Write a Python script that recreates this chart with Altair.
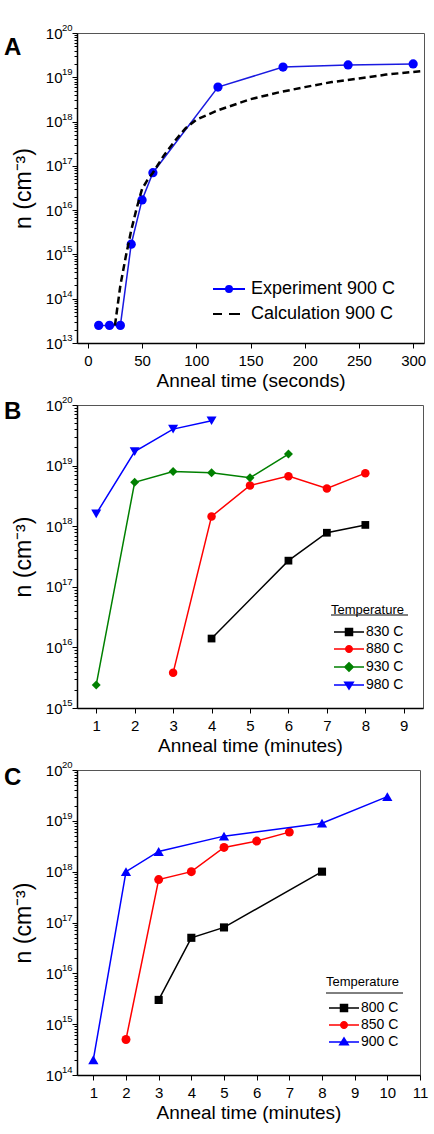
import altair as alt
import pandas as pd

FONT = "Liberation Sans"

# ---------------- Panel A data ----------------
a_exp_t = [10, 20, 30, 40, 50, 60, 120, 180, 240, 300]
a_exp_n = [2.5e13, 2.5e13, 2.5e13, 1.7e15, 1.7e16, 7e16, 6e18, 1.7e19, 1.9e19, 2e19]
a_calc_t = [25, 30, 35, 40, 45, 50, 55, 60, 70, 80, 90, 100, 120, 150, 175, 200, 225, 250, 275, 310]
a_calc_n = [2.5e13, 2e14, 9e14, 3.5e15, 1.1e16, 3e16, 4.8e16, 7e16, 1.7e17, 3.6e17, 7e17,
            1.1e18, 1.8e18, 3.2e18, 4.5e18, 6e18, 7.8e18, 9.4e18, 1.15e19, 1.4e19]
a_names = ["Experiment 900 C", "Calculation 900 C"]
a_xticks = [0, 50, 100, 150, 200, 250, 300]

# ---------------- Panel B data ----------------
b_names = ["830 C", "880 C", "930 C", "980 C"]
b_t = [[4, 6, 7, 8],
       [3, 4, 5, 6, 7, 8],
       [1, 2, 3, 4, 5, 6],
       [1, 2, 3, 4]]
b_n = [[1.4e16, 2.7e17, 7.8e17, 1.05e18],
       [3.8e15, 1.45e18, 4.7e18, 6.7e18, 4.2e18, 7.5e18],
       [2.4e15, 5.3e18, 8e18, 7.6e18, 6.3e18, 1.55e19],
       [1.6e18, 1.7e19, 4e19, 5.5e19]]
b_xticks = [1, 2, 3, 4, 5, 6, 7, 8, 9]

# ---------------- Panel C data ----------------
c_names = ["800 C", "850 C", "900 C"]
c_t = [[3, 4, 5, 8],
       [2, 3, 4, 5, 6, 7],
       [1, 2, 3, 5, 8, 10]]
c_n = [[3e15, 5e16, 8e16, 1e18],
       [5e14, 7e17, 1e18, 3e18, 4e18, 6e18],
       [2e14, 1e18, 2.5e18, 5e18, 9e18, 3e19]]
c_xticks = [1, 2, 3, 4, 5, 6, 7, 8, 9, 10, 11]

# styles
BLACK, RED, GREEN, BLUE = "#000000", "#ff0000", "#008000", "#0000ff"
b_colors = [BLACK, RED, GREEN, BLUE]
b_shapes = ["square", "circle", "diamond", "triangle-down"]
b_sizes = [60, 72, 80, 100]
c_colors = [BLACK, RED, BLUE]
c_shapes = ["square", "circle", "triangle-up"]
c_sizes = [66, 80, 105]

LINE = "M-3,0L3,0"
P_SQ = LINE + "M-0.7,-0.7L0.7,-0.7L0.7,0.7L-0.7,0.7Z"
P_CI = LINE + "M-0.65,0A0.65,0.65,0,1,0,0.65,0A0.65,0.65,0,1,0,-0.65,0Z"
P_DI = LINE + "M0,-0.85L0.85,0L0,0.85L-0.85,0Z"
P_TD = LINE + "M-0.85,-0.55L0.85,-0.55L0,0.8Z"
P_TU = LINE + "M-0.85,0.55L0.85,0.55L0,-0.8Z"
A_EXP = "M-3.2,0L3.2,0M-0.6,0A0.6,0.6,0,1,0,0.6,0A0.6,0.6,0,1,0,-0.6,0Z"
A_CALC = "M-3.2,0L-1.4,0M0,0L2.2,0"

TEST = "abs(log(datum.value)/LN10 - round(log(datum.value)/LN10)) < 0.0001"
YTITLE = "n (cm\u207b\u00b3)"


def ticks_for(lo, hi):
    vals = []
    for e in range(lo, hi):
        for k in range(1, 10):
            vals.append(float(k) * 10.0 ** e)
    vals.append(10.0 ** hi)
    return vals


def yenc(lo, hi):
    scale = alt.Scale(type="log", domain=[10.0 ** lo, 10.0 ** hi], nice=False)
    ax = alt.Axis(values=ticks_for(lo, hi), labelExpr=f"({TEST}) ? '10' : ''",
                  tickSize={"condition": {"test": TEST, "value": 5}, "value": 3},
                  title=YTITLE, labelFontSize=15, titleFontSize=23, labelPadding=10,
                  titlePadding=10, grid=False, labelOverlap=False, tickWidth=1,
                  domainWidth=1.5, labelFlush=False)
    return alt.Y("n:Q", scale=scale, axis=ax)


def xenc(domain, ticks, title):
    return alt.X("t:Q", scale=alt.Scale(domain=domain, nice=False, zero=False),
                 axis=alt.Axis(values=ticks, title=title, tickSize=5, labelPadding=5,
                               labelFontSize=15, titleFontSize=19, titlePadding=3,
                               grid=False, domainWidth=1.5, tickWidth=1,
                               labelFlush=False, labelOverlap=False))


def exp_layer(lo, hi):
    exps = list(range(lo, hi + 1))
    df = pd.DataFrame({"n": [10.0 ** e for e in exps], "e": [str(e) for e in exps]})
    return alt.Chart(df).mark_text(align="left", baseline="alphabetic", fontSize=9.5,
                                   font=FONT, dy=-2, color="black").encode(
        x=alt.value(-15), y=yenc(lo, hi), text="e:N")


def legend_layer(names, colors, paths, **kw):
    df = pd.DataFrame({"s": names})
    L = alt.Legend(orient="none", symbolSize=100, symbolOpacity=1, padding=0,
                   labelFont=FONT, labelColor="black", titleFont=FONT,
                   titleColor="black", titleFontWeight="normal", **kw)

    def sc(r):
        return alt.Scale(domain=names, range=r)
    return alt.Chart(df).mark_point(opacity=0, filled=True).encode(
        fill=alt.Fill("s:N", scale=sc(colors), legend=L),
        stroke=alt.Stroke("s:N", scale=sc(colors), legend=L),
        shape=alt.Shape("s:N", scale=sc(paths), legend=L),
    )


def underline(x1, x2, y):
    return alt.Chart(pd.DataFrame({"u": [0]})).mark_rule(color="black", strokeWidth=1).encode(
        x=alt.value(x1), x2=alt.value(x2), y=alt.value(y))


def panel_label(txt, y):
    return alt.Chart(pd.DataFrame({"lab": [txt]})).mark_text(
        align="left", baseline="middle", fontSize=24, fontWeight="bold", font=FONT,
        color="black").encode(x=alt.value(-73), y=alt.value(y), text="lab:N")


# ---------------- Panel A ----------------
dfa = pd.DataFrame({"t": a_exp_t, "n": a_exp_n})
dfc = pd.DataFrame({"t": a_calc_t, "n": a_calc_n})
xa = xenc([-10, 310], a_xticks, "Anneal time (seconds)")
A = alt.layer(
    alt.Chart(dfa).mark_line(color="#1a1ae0", strokeWidth=1.5).encode(x=xa, y=yenc(13, 20)),
    alt.Chart(dfa).mark_point(filled=True, color=BLUE, size=85, opacity=1).encode(x=xa, y=yenc(13, 20)),
    alt.Chart(dfc).mark_line(color="black", strokeWidth=2.5, strokeDash=[7, 4]).encode(x=xa, y=yenc(13, 20)),
    exp_layer(13, 20),
    panel_label("A", 15),
    legend_layer(a_names, [BLUE, "black"], [A_EXP, A_CALC], legendX=143, legendY=247,
                 labelFontSize=18, labelOffset=13, rowPadding=7, symbolStrokeWidth=2,
                 title=None),
).properties(width=347, height=310)

# ---------------- Panel B ----------------
xb = xenc([0.5, 9.5], b_xticks, "Anneal time (minutes)")
b_layers = []
for i, nm in enumerate(b_names):
    d = pd.DataFrame({"t": b_t[i], "n": b_n[i]})
    b_layers.append(alt.Chart(d).mark_line(color=b_colors[i], strokeWidth=1.5).encode(x=xb, y=yenc(15, 20)))
    b_layers.append(alt.Chart(d).mark_point(filled=True, shape=b_shapes[i], color=b_colors[i],
                                            size=b_sizes[i], opacity=1).encode(x=xb, y=yenc(15, 20)))
B = alt.layer(
    *b_layers,
    exp_layer(15, 20),
    panel_label("B", 6.5),
    legend_layer(b_names, b_colors, [P_SQ, P_CI, P_DI, P_TD], legendX=254, legendY=199,
                 title="Temperature", titleFontSize=13, titlePadding=8, labelFontSize=14,
                 labelOffset=10, symbolOffset=11, rowPadding=3, symbolStrokeWidth=1.5),
    underline(254, 331, 210),
).properties(width=346, height=303)

# ---------------- Panel C ----------------
xc = xenc([0.5, 11], c_xticks, "Anneal time (minutes)")
c_layers = []
for i, nm in enumerate(c_names):
    d = pd.DataFrame({"t": c_t[i], "n": c_n[i]})
    c_layers.append(alt.Chart(d).mark_line(color=c_colors[i], strokeWidth=1.5).encode(x=xc, y=yenc(14, 20)))
    c_layers.append(alt.Chart(d).mark_point(filled=True, shape=c_shapes[i], color=c_colors[i],
                                            size=c_sizes[i], opacity=1).encode(x=xc, y=yenc(14, 20)))
C = alt.layer(
    *c_layers,
    exp_layer(14, 20),
    panel_label("C", 8),
    legend_layer(c_names, c_colors, [P_SQ, P_CI, P_TU], legendX=249, legendY=206,
                 title="Temperature", titleFontSize=13, titlePadding=12, labelFontSize=14,
                 labelOffset=10, symbolOffset=11, rowPadding=3, symbolStrokeWidth=1.5),
    underline(249, 326, 223),
).properties(width=343, height=305)

chart = alt.vconcat(A, B, C, spacing=62, bounds="flush").resolve_scale(
    fill="independent", stroke="independent", shape="independent"
).resolve_legend(
    fill="independent", stroke="independent", shape="independent"
).properties(
    padding={"left": 3, "top": 22, "right": 4, "bottom": 4}
).configure(font=FONT).configure_view(stroke="#555555", strokeWidth=1).configure_axis(
    labelFont=FONT, titleFont=FONT, labelColor="black", titleColor="black",
    domainColor="black", tickColor="black", titleFontWeight="normal"
)

chart.save("out.html", embed_options={"renderer": "svg", "actions": False})
